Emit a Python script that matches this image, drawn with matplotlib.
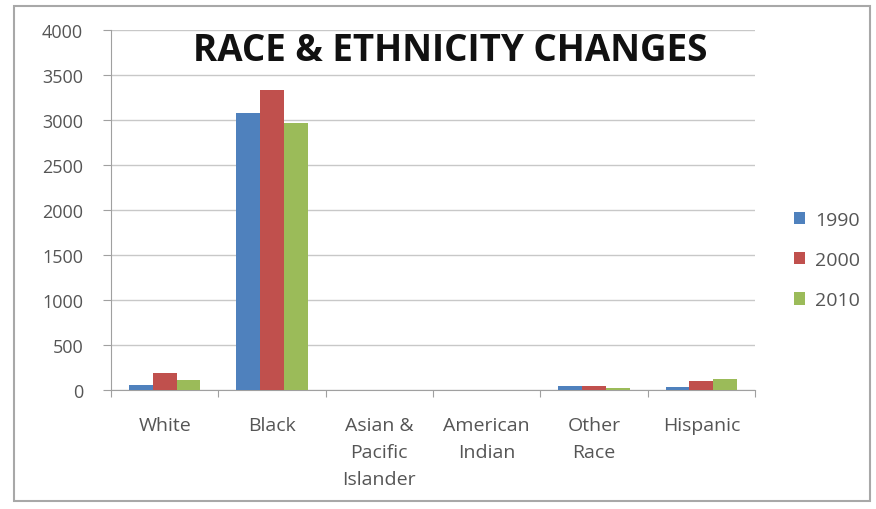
import matplotlib.pyplot as plt
import numpy as np
from matplotlib.patches import Rectangle

categories = ["White", "Black", "Asian &\nPacific\nIslander", "American\nIndian", "Other\nRace", "Hispanic"]
years = ["1990", "2000", "2010"]
v1990 = [58, 3080, 2, 1, 50, 28]
v2000 = [185, 3335, 3, 2, 50, 105]
v2010 = [115, 2965, 2, 1, 25, 125]
colors = ["#4F81BD", "#C0504D", "#9BBB59"]

plt.rcParams["font.family"] = ["Open Sans", "DejaVu Sans"]

fig = plt.figure(figsize=(8.76, 5.10), dpi=100)
ax = fig.add_axes([111 / 876, 1 - 391 / 510, 644 / 876, 360 / 510])

x = np.arange(len(categories))
w = 1 / 4.5
for i, (vals, c, yr) in enumerate(zip([v1990, v2000, v2010], colors, years)):
    ax.bar(x + (i - 1) * w, vals, width=w, color=c, label=yr, zorder=3)

ax.set_xlim(-0.5, len(categories) - 0.5)
ax.set_ylim(0, 4000)
ax.set_yticks(range(0, 4001, 500))
ax.yaxis.grid(True, color="#C8C8C8", linewidth=1, zorder=0)
ax.tick_params(axis="y", direction="out", length=6, color="#A0A0A0", labelcolor="#555555",
               labelsize=13, pad=14)

ax.set_xticks(np.arange(-0.5, len(categories), 1))
ax.set_xticklabels([])
ax.set_xticks(x, minor=True)
ax.set_xticklabels(categories, minor=True, linespacing=1.62, va="top")
ax.tick_params(axis="x", which="major", direction="out", length=5, color="#A0A0A0")
ax.tick_params(axis="x", which="minor", length=0, labelcolor="#555555", labelsize=14, pad=19)

for s in ["top", "right"]:
    ax.spines[s].set_visible(False)
ax.spines["left"].set_color("#A0A0A0")
ax.spines["bottom"].set_color("#A0A0A0")

fig.text(450 / 876, 1 - 51 / 510, "RACE & ETHNICITY CHANGES", ha="center", va="center",
         fontsize=26.5, fontweight="bold", color="#111111")

ax.legend(loc="center left", bbox_to_anchor=(776 / 876, 1 - 261 / 510), bbox_transform=fig.transFigure,
          frameon=False, fontsize=14, labelspacing=1.15, handlelength=0.6, handleheight=0.6,
          handletextpad=0.5, labelcolor="#555555")

# outer chart border
fig.patches.append(Rectangle((14 / 876, 8 / 510), 856 / 876, 495 / 510, transform=fig.transFigure,
                             fill=False, edgecolor="#A8A8A8", linewidth=1.5))

fig.savefig("out.png", dpi=100)
